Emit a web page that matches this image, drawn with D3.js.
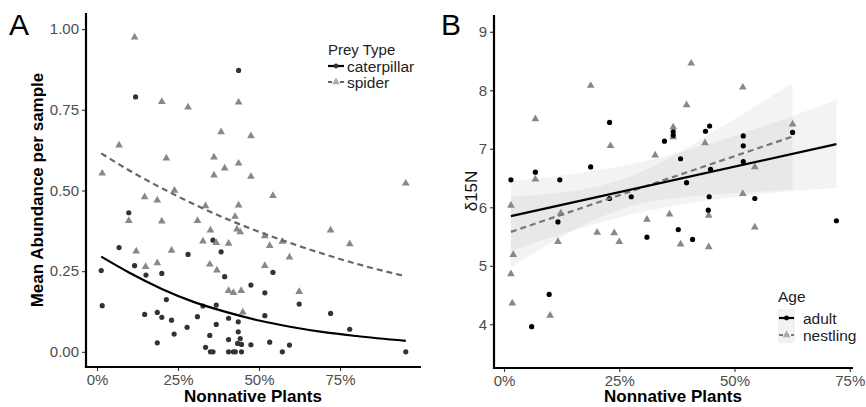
<!DOCTYPE html>
<html><head><meta charset="utf-8">
<script src="https://cdn.jsdelivr.net/npm/d3@7/dist/d3.min.js"></script>
<style>body{margin:0;background:#fff}svg{display:block;font-family:"Liberation Sans",Arial,sans-serif}</style>
</head><body><svg id="c" width="866" height="407"></svg>
<script>
// ---------- Panel A data (fraction nonnative, mean abundance) ----------
const caterpillarPts = [[0.437,0.872],[0.119,0.79],[0.098,0.431],[0.068,0.323],[0.281,0.302],[0.358,0.346],[0.383,0.31],[0.013,0.252],[0.116,0.267],[0.151,0.238],[0.20,0.243],[0.394,0.233],[0.475,0.207],[0.214,0.162],[0.016,0.143],[0.327,0.142],[0.368,0.145],[0.147,0.116],[0.186,0.122],[0.20,0.107],[0.23,0.098],[0.31,0.109],[0.406,0.104],[0.436,0.093],[0.278,0.076],[0.368,0.085],[0.238,0.055],[0.436,0.062],[0.348,0.051],[0.442,0.041],[0.186,0.028],[0.406,0.038],[0.434,0.026],[0.446,0.023],[0.475,0.022],[0.335,0.014],[0.35,0],[0.358,0],[0.406,0],[0.421,0],[0.427,0],[0.446,0],[0.543,0.246],[0.518,0.183],[0.624,0.148],[0.518,0.112],[0.721,0.119],[0.78,0.07],[0.533,0.03],[0.594,0.021],[0.572,0],[0.953,0]];
const spiderPts = [[0.116,0.975],[0.20,0.775],[0.281,0.758],[0.437,0.773],[0.383,0.681],[0.475,0.669],[0.068,0.64],[0.016,0.553],[0.214,0.60],[0.361,0.603],[0.394,0.569],[0.437,0.584],[0.361,0.547],[0.475,0.543],[0.239,0.50],[0.147,0.48],[0.186,0.47],[0.335,0.452],[0.437,0.454],[0.098,0.406],[0.20,0.405],[0.31,0.406],[0.426,0.419],[0.35,0.377],[0.432,0.38],[0.442,0.371],[0.327,0.343],[0.368,0.338],[0.406,0.336],[0.121,0.312],[0.23,0.314],[0.15,0.264],[0.186,0.275],[0.348,0.271],[0.37,0.253],[0.406,0.189],[0.421,0.183],[0.445,0.189],[0.45,0.123],[0.543,0.484],[0.518,0.359],[0.533,0.329],[0.572,0.342],[0.594,0.293],[0.518,0.267],[0.624,0.186],[0.721,0.377],[0.78,0.334],[0.953,0.522]];
const caterpillarFit = [[0.013,0.295],[0.1,0.245],[0.2,0.195],[0.3,0.154],[0.4,0.123],[0.5,0.097],[0.6,0.077],[0.7,0.061],[0.8,0.049],[0.953,0.034]];
const spiderFit = [[0.013,0.615],[0.1,0.562],[0.2,0.507],[0.3,0.457],[0.4,0.412],[0.5,0.372],[0.6,0.336],[0.7,0.303],[0.8,0.273],[0.953,0.234]];
const yTicksA = [0, 0.25, 0.5, 0.75, 1.0];
const xTicks = [0, 0.25, 0.5, 0.75];
const preyLabels = ["caterpillar", "spider"];

// ---------- Panel B data (fraction nonnative, d15N) ----------
const adultPts = [[0.229,7.45],[0.348,7.13],[0.188,6.69],[0.068,6.60],[0.015,6.47],[0.121,6.47],[0.229,6.15],[0.276,6.18],[0.117,5.75],[0.31,5.49],[0.098,4.51],[0.06,3.96],[0.367,7.29],[0.367,7.23],[0.437,7.30],[0.446,7.39],[0.519,7.22],[0.519,7.05],[0.626,7.28],[0.383,6.83],[0.448,6.65],[0.519,6.78],[0.396,6.42],[0.445,6.18],[0.544,6.15],[0.443,5.95],[0.378,5.62],[0.409,5.45],[0.721,5.77]];
const nestlingPts = [[0.188,8.08],[0.068,7.51],[0.231,7.05],[0.068,6.48],[0.328,6.89],[0.367,7.37],[0.367,7.2],[0.015,6.03],[0.123,5.90],[0.117,5.41],[0.202,5.57],[0.239,5.56],[0.25,5.41],[0.31,5.79],[0.359,5.88],[0.02,5.19],[0.015,4.86],[0.018,4.36],[0.10,4.15],[0.406,8.46],[0.518,8.05],[0.396,7.75],[0.436,7.10],[0.626,7.42],[0.544,6.69],[0.518,6.23],[0.444,5.86],[0.544,5.66],[0.383,5.37],[0.444,5.32]];
const adultFit = [[0.015,5.85],[0.721,7.08]];
const nestlingFit = [[0.015,5.58],[0.626,7.21]];
// confidence bands: [x, lower, upper]
const adultBand = [[0.015,5.25,6.45],[0.1,5.48,6.52],[0.2,5.72,6.63],[0.3,5.92,6.78],[0.4,6.07,6.98],[0.5,6.17,7.22],[0.6,6.26,7.49],[0.721,6.33,7.84]];
const nestlingBand = [[0.015,4.98,6.18],[0.1,5.38,6.23],[0.2,5.80,6.35],[0.3,6.07,6.61],[0.4,6.18,7.03],[0.5,6.24,7.51],[0.626,6.30,8.12]];
const yTicksB = [4, 5, 6, 7, 8, 9];
const ageLabels = ["adult", "nestling"];

const svg = d3.select("#c");
const pct = d3.format(".0%");
const tickCol = "#4d4d4d";

function axes(g, x, y, yTicks, yFmt, x0, x1, y0, y1) {
  const ax = g.append("g").attr("transform", `translate(0,${y0})`)
    .call(d3.axisBottom(x).tickValues(xTicks).tickFormat(pct).tickSize(4).tickPadding(3));
  const ay = g.append("g").attr("transform", `translate(${x0},0)`)
    .call(d3.axisLeft(y).tickValues(yTicks).tickFormat(yFmt).tickSize(4).tickPadding(3));
  [ax, ay].forEach(a => {
    a.select(".domain").remove();
    a.selectAll(".tick line").attr("stroke", "#333").attr("stroke-width", 1.1);
    a.selectAll(".tick text").attr("fill", tickCol).attr("font-size", 15).attr("font-family", "Liberation Sans, Arial, sans-serif");
  });
  g.append("line").attr("x1", x0).attr("x2", x0).attr("y1", y1).attr("y2", y0 + 1).attr("stroke", "#000").attr("stroke-width", 2.2);
  g.append("line").attr("x1", x0 - 1).attr("x2", x1).attr("y1", y0).attr("y2", y0).attr("stroke", "#000").attr("stroke-width", 2.2);
}

// ================= Panel A =================
const xA = d3.scaleLinear().domain([-0.034, 1.0]).range([86, 421]);
const yA = d3.scaleLinear().domain([-0.047, 1.05]).range([367, 13]);
const gA = svg.append("g");
gA.append("text").attr("x", 9).attr("y", 35).attr("font-size", 30).text("A");

gA.selectAll("circle.cat").data(caterpillarPts).join("circle")
  .attr("cx", d => xA(d[0])).attr("cy", d => yA(d[1])).attr("r", 2.6).attr("fill", "#333");
const tri = d3.symbol().type(d3.symbolTriangle).size(26);
gA.selectAll("path.spi").data(spiderPts).join("path")
  .attr("d", tri).attr("transform", d => `translate(${xA(d[0])},${yA(d[1])})`).attr("fill", "#888");

const lineA = d3.line().x(d => xA(d[0])).y(d => yA(d[1])).curve(d3.curveMonotoneX);
gA.append("path").attr("d", lineA(spiderFit)).attr("fill", "none").attr("stroke", "#666").attr("stroke-width", 2.2).attr("stroke-dasharray", "6,4");
gA.append("path").attr("d", lineA(caterpillarFit)).attr("fill", "none").attr("stroke", "#000").attr("stroke-width", 2.2);

axes(gA, xA, yA, yTicksA, d3.format(".2f"), 86, 421, 367, 13);
gA.append("text").attr("x", 253).attr("y", 402).attr("text-anchor", "middle").attr("font-size", 17).attr("font-weight", "bold").text("Nonnative Plants");
gA.append("text").attr("transform", "translate(43,190) rotate(-90)").attr("text-anchor", "middle").attr("font-size", 17).attr("font-weight", "bold").text("Mean Abundance per sample");

// legend A
const lgA = gA.append("g");
lgA.append("text").attr("x", 328).attr("y", 55).attr("font-size", 15).attr("fill", "#222").text("Prey Type");
preyLabels.forEach((lab, i) => {
  const yy = 66 + i * 16;
  if (i === 0) {
    lgA.append("line").attr("x1", 328).attr("x2", 344).attr("y1", yy).attr("y2", yy).attr("stroke", "#000").attr("stroke-width", 2.2);
    lgA.append("circle").attr("cx", 336).attr("cy", yy).attr("r", 2.4).attr("fill", "#333");
  } else {
    lgA.append("line").attr("x1", 328).attr("x2", 344).attr("y1", yy).attr("y2", yy).attr("stroke", "#666").attr("stroke-width", 2.2).attr("stroke-dasharray", "4,2");
    lgA.append("path").attr("d", tri).attr("transform", `translate(336,${yy})`).attr("fill", "#aaa");
  }
  lgA.append("text").attr("x", 347).attr("y", yy + 5.5).attr("font-size", 15.5).attr("fill", "#222").text(lab);
});

// ================= Panel B =================
const xB = d3.scaleLinear().domain([-0.0217, 0.757]).range([494, 853]);
const yB = d3.scaleLinear().domain([3.253, 9.287]).range([368, 15]);
const gB = svg.append("g");
gB.append("text").attr("x", 441).attr("y", 35).attr("font-size", 30).text("B");

const area = d3.area().x(d => xB(d[0])).y0(d => yB(d[1])).y1(d => yB(d[2])).curve(d3.curveMonotoneX);
gB.append("path").attr("d", area(adultBand)).attr("fill", "#a8a8a8").attr("opacity", 0.14);
gB.append("path").attr("d", area(nestlingBand)).attr("fill", "#a8a8a8").attr("opacity", 0.14);

gB.selectAll("path.nest").data(nestlingPts).join("path")
  .attr("d", tri).attr("transform", d => `translate(${xB(d[0])},${yB(d[1])})`).attr("fill", "#888");
gB.selectAll("circle.ad").data(adultPts).join("circle")
  .attr("cx", d => xB(d[0])).attr("cy", d => yB(d[1])).attr("r", 2.6).attr("fill", "#000");

const lineB = d3.line().x(d => xB(d[0])).y(d => yB(d[1]));
gB.append("path").attr("d", lineB(nestlingFit)).attr("fill", "none").attr("stroke", "#777").attr("stroke-width", 2.2).attr("stroke-dasharray", "6,4");
gB.append("path").attr("d", lineB(adultFit)).attr("fill", "none").attr("stroke", "#000").attr("stroke-width", 2.2);

axes(gB, xB, yB, yTicksB, d3.format("d"), 494, 853, 368, 15);
gB.append("text").attr("x", 673).attr("y", 402).attr("text-anchor", "middle").attr("font-size", 17).attr("font-weight", "bold").text("Nonnative Plants");
gB.append("text").attr("transform", "translate(477,191) rotate(-90)").attr("text-anchor", "middle").attr("font-size", 17).attr("fill", "#111").text("δ15N");

// legend B
const lgB = gB.append("g");
lgB.append("text").attr("x", 778).attr("y", 302).attr("font-size", 15.5).attr("fill", "#222").text("Age");
lgB.append("rect").attr("x", 778).attr("y", 309).attr("width", 17).attr("height", 34).attr("fill", "#f2f2f2");
ageLabels.forEach((lab, i) => {
  const yy = 318 + i * 17;
  if (i === 0) {
    lgB.append("line").attr("x1", 779).attr("x2", 794).attr("y1", yy).attr("y2", yy).attr("stroke", "#000").attr("stroke-width", 2.2);
    lgB.append("circle").attr("cx", 786.5).attr("cy", yy).attr("r", 2.4).attr("fill", "#000");
  } else {
    lgB.append("line").attr("x1", 779).attr("x2", 794).attr("y1", yy).attr("y2", yy).attr("stroke", "#777").attr("stroke-width", 2.2).attr("stroke-dasharray", "4,2");
    lgB.append("path").attr("d", tri).attr("transform", `translate(786.5,${yy})`).attr("fill", "#aaa");
  }
  lgB.append("text").attr("x", 803).attr("y", yy + 5.5).attr("font-size", 15.5).attr("fill", "#222").text(lab);
});
</script></body></html>
